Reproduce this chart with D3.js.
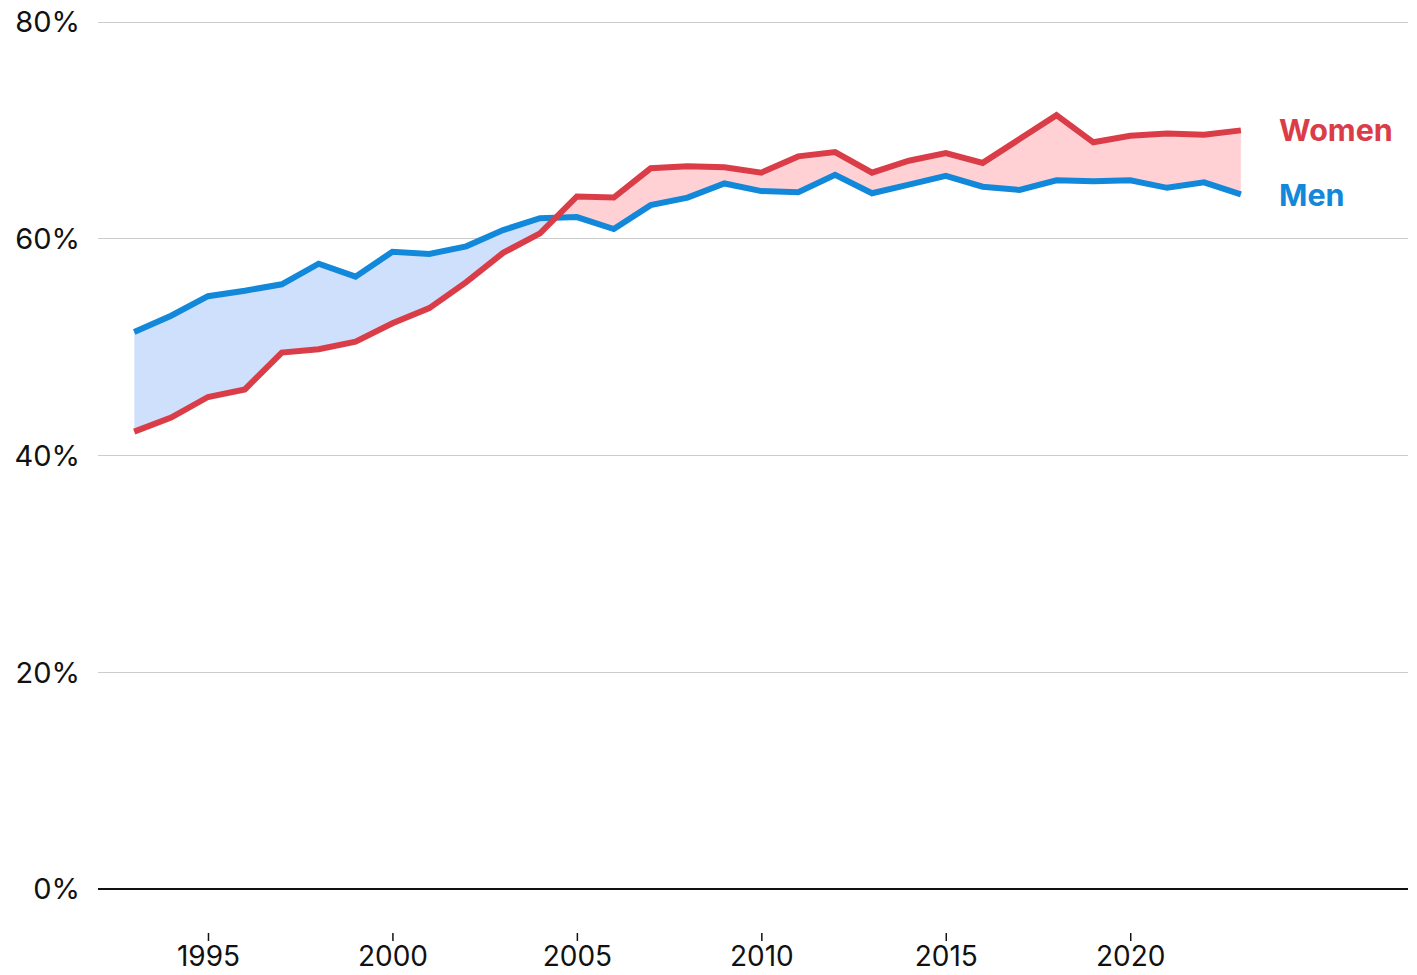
<!DOCTYPE html>
<html><head><meta charset="utf-8">
<script src="https://cdn.jsdelivr.net/npm/d3@7"></script>
<style>body{margin:0;background:#fff}svg{display:block}text{font-family:Inter,Roboto,sans-serif}</style>
</head><body><svg id="c" width="1417" height="975"></svg>
<script>
const years = d3.range(1993, 2024);
const men = [51.4,52.9,54.7,55.2,55.8,57.7,56.5,58.8,58.6,59.3,60.8,61.9,62.0,60.9,63.1,63.8,65.1,64.4,64.3,65.9,64.2,65.0,65.8,64.8,64.5,65.4,65.3,65.4,64.7,65.2,64.1];
const women = [42.2,43.5,45.4,46.1,49.5,49.8,50.5,52.2,53.6,56.0,58.7,60.5,63.9,63.8,66.5,66.7,66.6,66.1,67.6,68.0,66.1,67.2,67.9,67.0,69.2,71.4,68.9,69.5,69.7,69.6,70.0];
const yTicks = [0,20,40,60,80];
const xTicks = [1995,2000,2005,2010,2015,2020];
const data = years.map((y,i)=>({year:y, m:men[i], w:women[i]}));

const svg = d3.select("#c");
const x = d3.scaleLinear().domain([1993,2023]).range([134.2,1240.9]);
const y = d3.scaleLinear().domain([0,80]).range([889,22]);
const gridL = 98, gridR = 1408;

svg.append("g").selectAll("line").data(yTicks.filter(d=>d>0)).join("line")
  .attr("x1",gridL).attr("x2",gridR).attr("y1",d=>y(d)).attr("y2",d=>y(d))
  .attr("stroke","#cccccc").attr("stroke-width",1).attr("shape-rendering","crispEdges");
svg.append("g").selectAll("text").data(yTicks).join("text")
  .attr("x",80).attr("y",d=>y(d)).attr("dy","0.36em").attr("text-anchor","end")
  .attr("font-size",29).attr("fill","#111").text(d=>d+"%");

const defs = svg.append("defs");
defs.append("clipPath").attr("id","aboveW").append("path")
  .attr("d", d3.area().x(d=>x(d.year)).y0(0).y1(d=>y(d.w))(data));
defs.append("clipPath").attr("id","aboveM").append("path")
  .attr("d", d3.area().x(d=>x(d.year)).y0(0).y1(d=>y(d.m))(data));
const between = d3.area().x(d=>x(d.year)).y0(d=>y(d.w)).y1(d=>y(d.m));
svg.append("path").attr("d",between(data)).attr("fill","#cfe0fd").attr("clip-path","url(#aboveW)");
svg.append("path").attr("d",between(data)).attr("fill","#ffd1d4").attr("clip-path","url(#aboveM)");

svg.append("line").attr("x1",gridL).attr("x2",gridR).attr("y1",y(0)).attr("y2",y(0))
  .attr("stroke","#111").attr("stroke-width",2);

const xa = svg.append("g").attr("transform","translate(0,933)")
  .call(d3.axisBottom(x).tickValues(xTicks).tickFormat(d3.format("d")).tickSize(8).tickPadding(5));
xa.select(".domain").remove();
xa.selectAll("line").attr("stroke","#111").attr("stroke-width",1.5);
xa.selectAll("text").attr("font-size",28).attr("fill","#111").attr("font-family","Inter,Roboto,sans-serif");

const lineM = d3.line().x(d=>x(d.year)).y(d=>y(d.m));
const lineW = d3.line().x(d=>x(d.year)).y(d=>y(d.w));
svg.append("path").attr("d",lineM(data)).attr("fill","none").attr("stroke","#1288da").attr("stroke-width",6).attr("stroke-linejoin","miter");
svg.append("path").attr("d",lineW(data)).attr("fill","none").attr("stroke","#da3d48").attr("stroke-width",6).attr("stroke-linejoin","miter");

svg.append("text").attr("x",1279).attr("y",141).attr("font-size",30.5).attr("font-weight",700).attr("fill","#da3d48").text("Women");
svg.append("text").attr("x",1279).attr("y",206).attr("font-size",30.5).attr("font-weight",700).attr("fill","#1288da").text("Men");
</script></body></html>
